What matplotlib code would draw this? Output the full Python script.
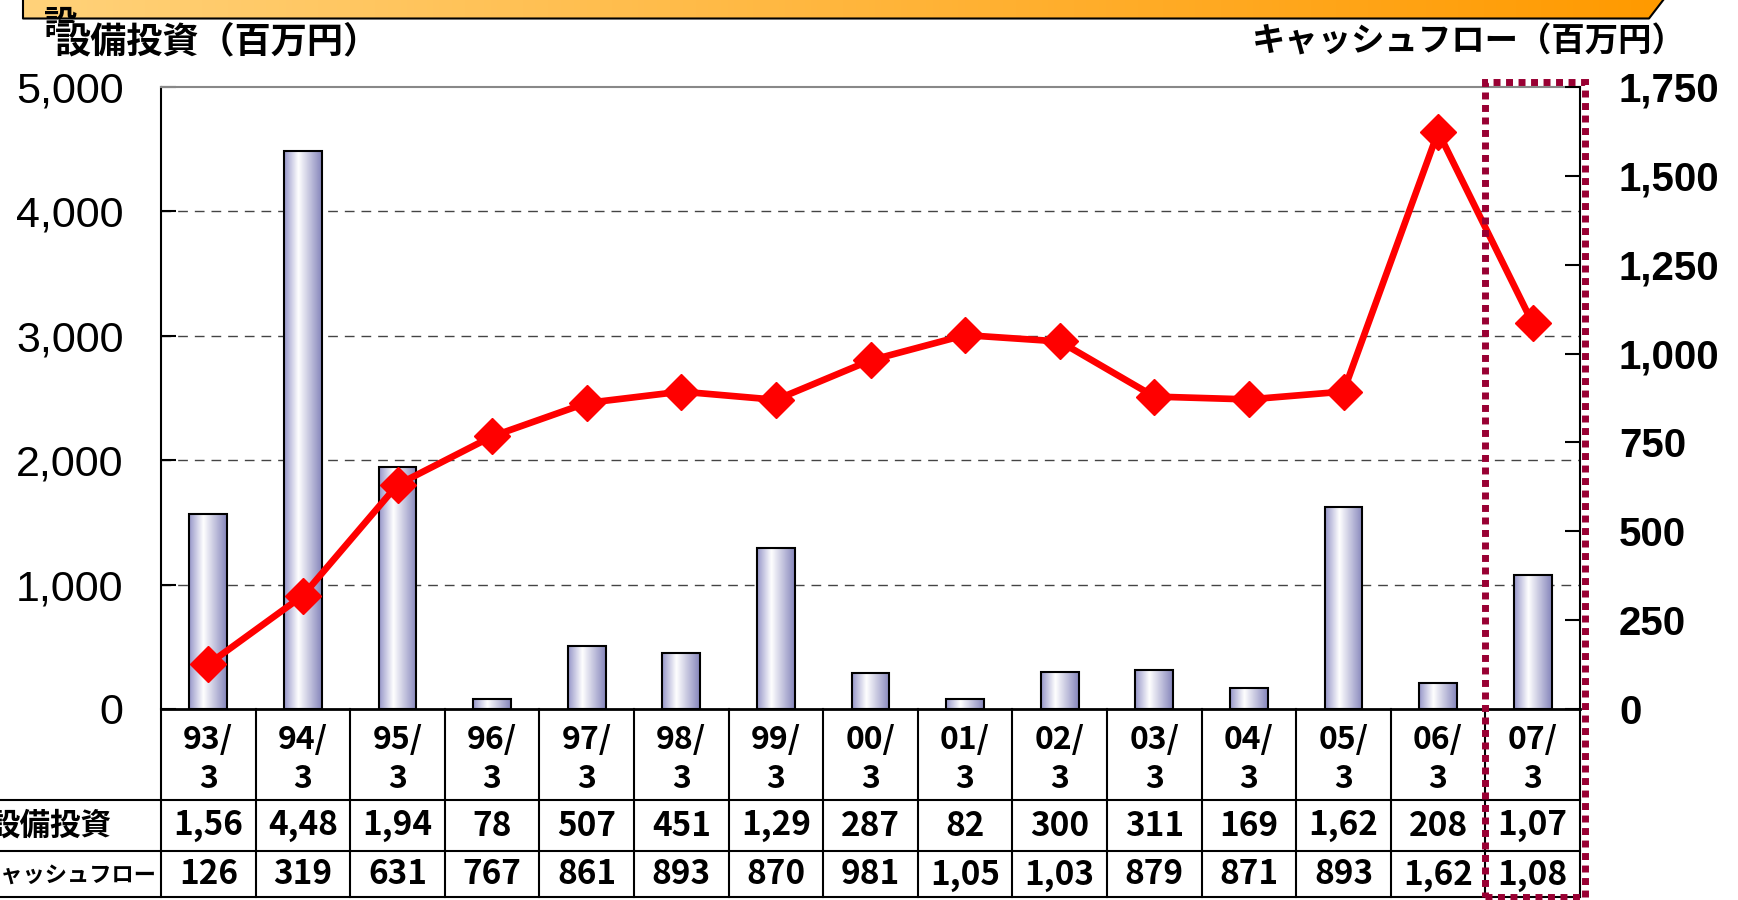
import matplotlib.pyplot as plt
import numpy as np
from matplotlib.colors import LinearSegmentedColormap
from matplotlib.patches import Rectangle, Polygon
from matplotlib.lines import Line2D
from matplotlib.transforms import blended_transform_factory

plt.rcParams['font.family'] = ['Noto Sans CJK JP', 'DejaVu Sans']

# data (百万円)
periods = ['93/3', '94/3', '95/3', '96/3', '97/3', '98/3', '99/3', '00/3',
           '01/3', '02/3', '03/3', '04/3', '05/3', '06/3', '07/3']
capex = [1568, 4483, 1945, 78, 507, 451, 1295, 287, 82, 300, 311, 169, 1625, 208, 1075]
cashflow = [126, 319, 631, 767, 861, 893, 870, 981, 1052, 1034, 879, 871, 893, 1624, 1085]
left_ticks = [0, 1000, 2000, 3000, 4000, 5000]
right_ticks = [0, 250, 500, 750, 1000, 1250, 1500, 1750]
row_labels = ['設備投資', 'キャッシュフロー']
left_title = '設備投資（百万円）'
right_title = 'キャッシュフロー（百万円）'

W, H = 1738, 900
fig = plt.figure(figsize=(W / 100, H / 100), dpi=100)

# pixel helpers for the layout
ax_l, ax_r, ax_t, ax_b = 161, 1580, 87, 709
ax = fig.add_axes([ax_l / W, 1 - ax_b / H, (ax_r - ax_l) / W, (ax_b - ax_t) / H])
def ay(py):
    return (ax_b - py) / (ax_b - ax_t)

x = np.arange(len(periods))

# bars with horizontal gradient
cmap = LinearSegmentedColormap.from_list('barg', [(0, '#9595c8'), (0.38, '#ffffff'), (1, '#8585bb')])
grad = np.linspace(0, 1, 256).reshape(1, -1)
bars = ax.bar(x, capex, width=0.4, facecolor='none', edgecolor='black', linewidth=1.5, zorder=3)
for b in bars:
    x0, y0 = b.get_xy()
    im = ax.imshow(grad, cmap=cmap, extent=(x0, x0 + b.get_width(), y0, y0 + b.get_height()),
                   aspect='auto', zorder=2.5, interpolation='bilinear')
    im.set_clip_path(b)

ax.set_xlim(-0.5, len(periods) - 0.5)
ax.set_ylim(0, 5000)
ax.set_yticks(left_ticks)
ax.set_yticklabels([f'{v:,}' for v in left_ticks], fontfamily='Liberation Sans', fontsize=31)
ax.tick_params(axis='y', direction='in', length=11, width=1.5, pad=27)
ax.tick_params(axis='x', length=0, labelbottom=False)
for v in left_ticks[1:-1]:
    ax.axhline(v, color='#444444', lw=1, ls=(0, (7, 5)), zorder=1)
ax.spines['top'].set_color('#888888')
ax.spines['top'].set_linewidth(1.5)
ax.spines['left'].set_linewidth(1.5)
ax.spines['bottom'].set_linewidth(2)
ax.spines['right'].set_visible(False)

# cash flow line on right axis
ax2 = ax.twinx()
ax2.plot(x, cashflow, color='#ff0000', lw=4.8, marker='D', ms=18, zorder=5)
ax2.set_ylim(0, 1750)
ax2.set_yticks(right_ticks)
ax2.set_yticklabels([f'{v:,}' for v in right_ticks], fontfamily='Liberation Sans',
                    fontweight='bold', fontsize=29)
ax2.tick_params(axis='y', direction='in', length=11, width=1.5, pad=28)
for s in ['top', 'left', 'bottom']:
    ax2.spines[s].set_visible(False)
ax2.spines['right'].set_linewidth(1.5)

# data table under the chart
trans = blended_transform_factory(ax.transData, ax.transAxes)
rows_y = [ay(800), ay(851), ay(897)]
for k in range(len(periods) + 1):
    ax.plot([k - 0.5, k - 0.5], [0, rows_y[-1]], transform=trans, color='black', lw=1.5, clip_on=False)
for yy in rows_y:
    ax.plot([-ax_l / (ax_r - ax_l), 1], [yy, yy], transform=ax.transAxes, color='black', lw=1.5, clip_on=False)

for i, p in enumerate(periods):
    top, bot = p.split('/')
    ax.text(i, ay(740), top + '/', transform=trans, ha='center', va='center',
            fontsize=23, fontweight='bold')
    ax.text(i, ay(779), bot, transform=trans, ha='center', va='center',
            fontsize=23, fontweight='bold')
    ax.text(i, ay(826), f'{capex[i]:,}'[:4], transform=trans, ha='center', va='center',
            fontsize=24, fontweight='bold')
    ax.text(i, ay(875), f'{cashflow[i]:,}'[:4], transform=trans, ha='center', va='center',
            fontsize=24, fontweight='bold')

ax.text((111 - ax_l) / (ax_r - ax_l), ay(826), row_labels[0], transform=ax.transAxes,
        ha='right', va='center', fontsize=22, fontweight='bold')
ax.text((157 - ax_l) / (ax_r - ax_l), ay(875), row_labels[1], transform=ax.transAxes,
        ha='right', va='center', fontsize=16, fontweight='bold')

# dotted highlight around the latest period
n = len(periods)
ax2.add_patch(Rectangle((n - 1.5, ay(897)), 1.05, ay(82) - ay(897), transform=trans,
                        fill=False, edgecolor='#990033', lw=5, ls=(0, (1, 0.8)),
                        clip_on=False, zorder=10))

# orange banner at top
bax = fig.add_axes([0, 1 - 20 / H, 1, 20 / H])
bax.set_xlim(0, W)
bax.set_ylim(0, 20)
bax.axis('off')
bcmap = LinearSegmentedColormap.from_list('ban', ['#ffd27a', '#ff9a00'])
bim = bax.imshow(grad, cmap=bcmap, extent=(23, 1663, 0, 21), aspect='auto')
poly = Polygon([(23, 1.5), (1649, 1.5), (1664, 21), (23, 21)], closed=True,
               transform=bax.transData, facecolor='none', edgecolor='none')
bax.add_patch(poly)
bim.set_clip_path(poly)
bax.add_line(Line2D([23, 23, 1649, 1664], [21, 1.5, 1.5, 21], color='black', lw=1.5))
bax.set_xlim(0, W)
bax.set_ylim(0, 20)

# stray label partly hidden behind the axis title
fig.text(44 / W, 1 - 34 / H, '設', fontsize=24, fontweight='bold', va='baseline', zorder=1)
fig.add_artist(Rectangle((55 / W, 1 - 64 / H), 320 / W, 41 / H, transform=fig.transFigure,
                         facecolor='white', edgecolor='none', zorder=2))
fig.text(55 / W, 1 - 42 / H, left_title, fontsize=26, fontweight='bold', va='center', zorder=3)
fig.text(1686 / W, 1 - 42 / H, right_title, fontsize=24, fontweight='bold', va='center', ha='right')

fig.savefig('out.png', dpi=100)
